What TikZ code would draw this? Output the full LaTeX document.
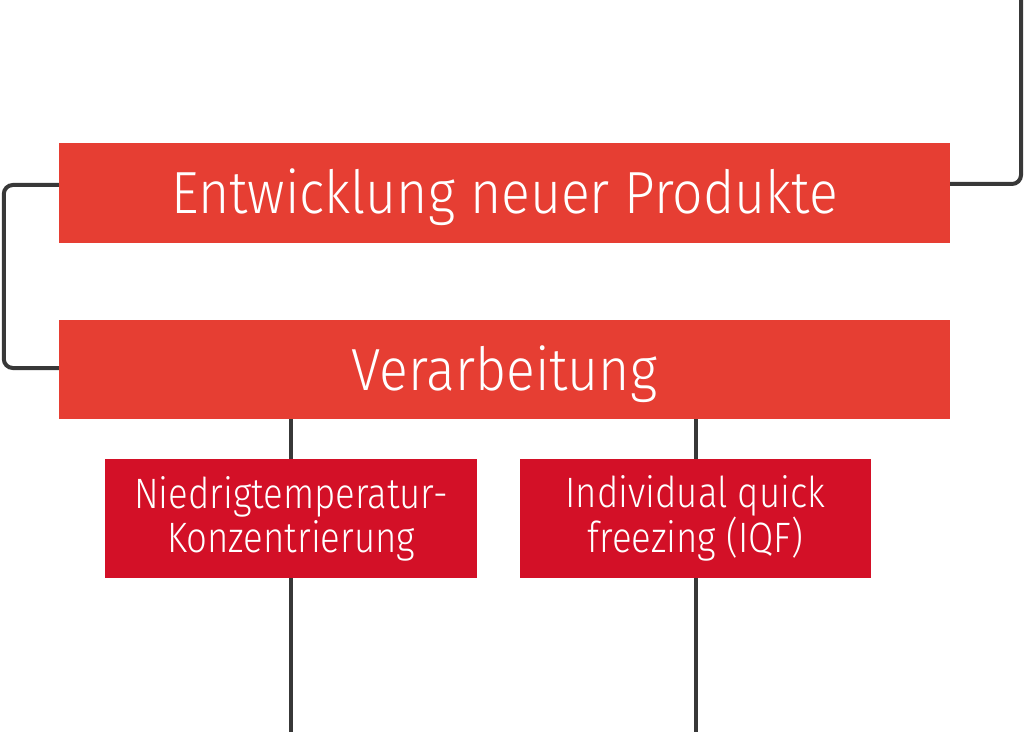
\documentclass[tikz,border=0pt]{standalone}
\usepackage{fontspec}
\setmainfont{Fira Sans Light}[FakeStretch=0.86]
\newfontfamily\bigfont{Fira Sans Light}[FakeStretch=0.90]
\definecolor{bigred}{HTML}{E63E33}
\definecolor{smallred}{HTML}{D31027}
\definecolor{linegray}{HTML}{383838}
\begin{document}
\begin{tikzpicture}[x=1pt,y=1pt,
  bigbox/.style={fill=bigred, draw=none, minimum width=891pt, minimum height=100pt, inner sep=0pt, text=white,
    font=\bigfont\fontsize{59.5}{60}\selectfont, text height=41pt, text depth=0pt},
  smallbox/.style={fill=smallred, draw=none, minimum height=119pt, inner sep=0pt, text=white, align=center,
    font=\fontsize{42.5}{44}\selectfont},
  conn/.style={draw=linegray, line width=4pt, rounded corners=9pt}]
\useasboundingbox (0,0) rectangle (1024,732);
\node[bigbox] (dev) at (504.5,539) {Entwicklung neuer Produkte};
\node[bigbox, minimum height=99pt] (proc) at (504.5,362.5) {Verarbeitung};
\node[smallbox, minimum width=372pt] (lowtemp) at (291,213.5) {Niedrigtemperatur-\\Konzentrierung};
\node[smallbox, minimum width=351pt] (iqf) at (695.5,213.5) {Individual quick\\freezing (IQF)};
\coordinate (top) at (1021,732);
\coordinate (bot1) at (291,0);
\coordinate (bot2) at (695.5,0);
\draw[conn] ([yshift=9pt]dev.east) -| (top);
\draw[conn] ([yshift=8pt]dev.west) -- ++(-55,0) |- ([yshift=1.5pt]proc.west);
\draw[conn] (lowtemp.north |- proc.south) -- (lowtemp.north);
\draw[conn] (iqf.north |- proc.south) -- (iqf.north);
\draw[conn] (lowtemp.south) -- (bot1);
\draw[conn] (iqf.south) -- (bot2);
\end{tikzpicture}
\end{document}
